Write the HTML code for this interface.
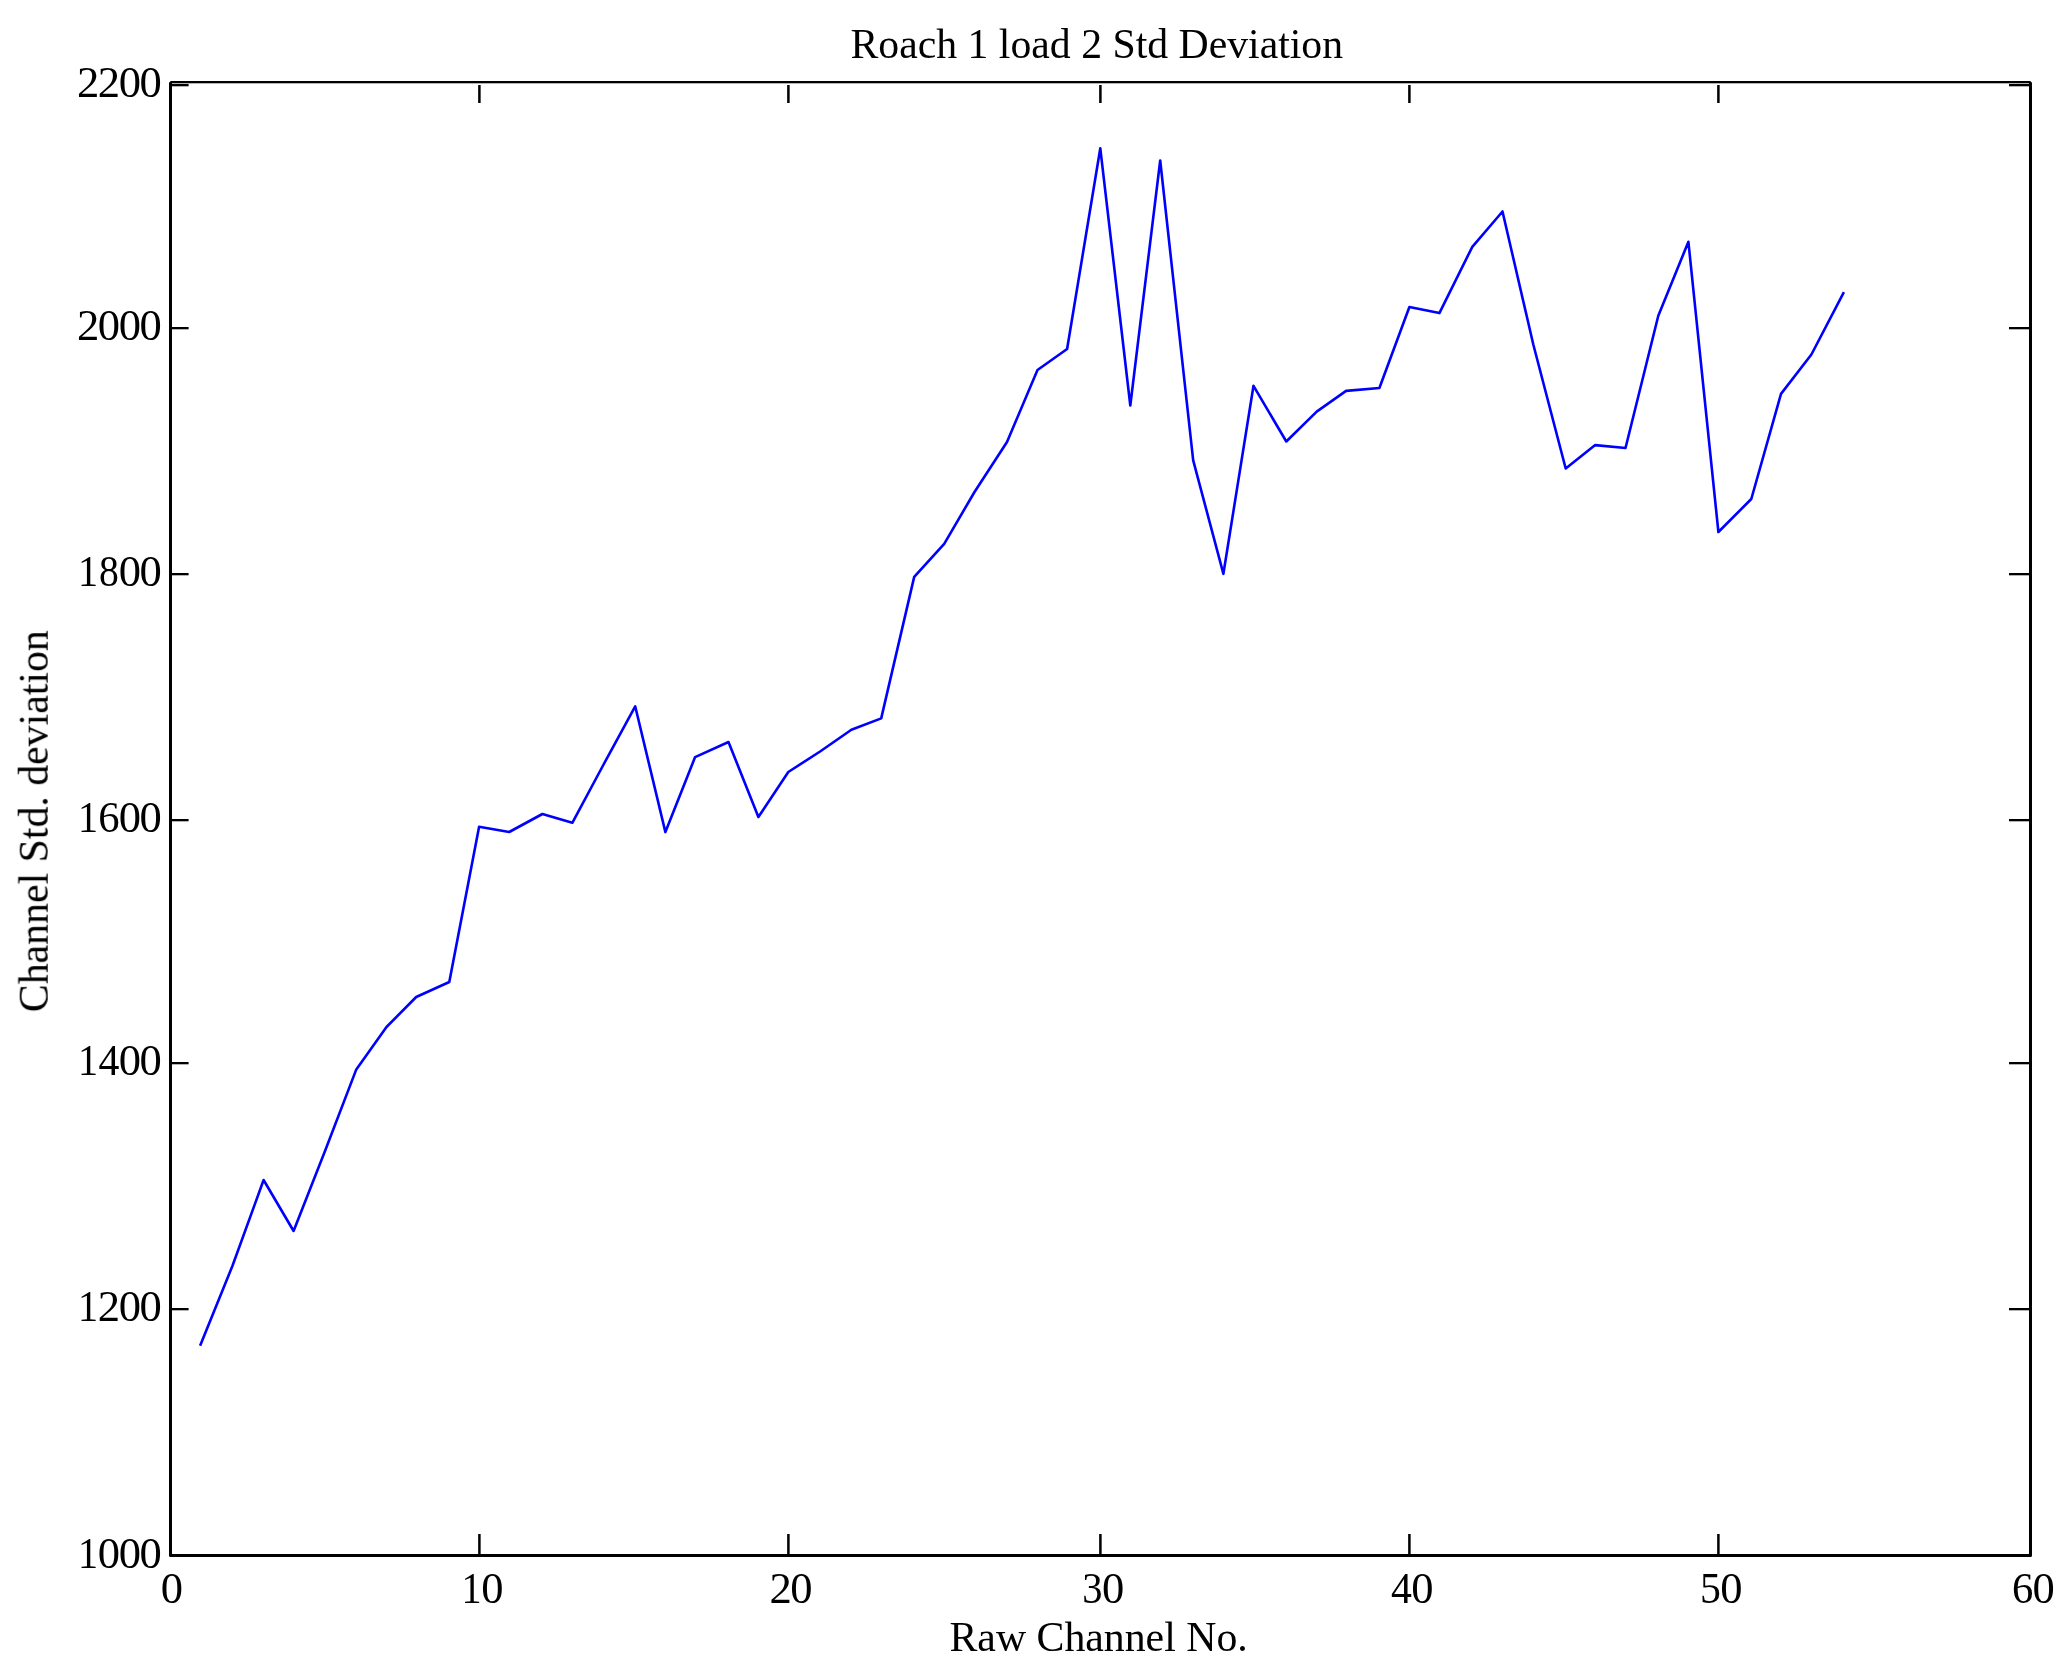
<!DOCTYPE html>
<html lang="en">
<head>
<meta charset="utf-8">
<title>Roach 1 load 2 Std Deviation</title>
<style>
html,body{margin:0;padding:0;background:#fff;overflow:hidden}
svg{display:block}
text{font-family:"Liberation Serif",serif;font-size:41.8px;fill:#000}
</style>
</head>
<body>
<svg width="2067" height="1671" viewBox="0 0 2067 1671">
<rect x="0" y="0" width="2067" height="1671" fill="#fff"/>
<path d="M200.6,1344.5 L232.4,1266.0 L263.6,1180.0 L293.6,1231.0 L325.4,1150.0 L356.3,1069.4 L386.5,1027.0 L416.2,997.0 L449.3,982.0 L479.1,826.8 L509.2,832.0 L542.4,814.0 L572.3,822.8 L603.3,765.0 L635.2,706.3 L665.4,832.1 L695.1,757.1 L728.5,742.0 L758.4,817.0 L788.3,772.0 L820.1,751.5 L851.4,729.8 L881.2,718.4 L914.2,576.9 L944.2,543.9 L974.5,492.0 L1007.0,442.0 L1037.5,370.0 L1067.1,349.0 L1100.3,148.3 L1130.3,405.5 L1160.2,160.5 L1193.2,460.4 L1223.4,573.8 L1253.5,385.8 L1286.3,441.5 L1316.7,411.6 L1346.1,390.9 L1379.4,388.0 L1409.4,307.0 L1439.4,313.1 L1472.3,246.8 L1502.5,211.5 L1533.3,344.5 L1565.7,468.5 L1595.2,445.1 L1625.5,448.0 L1658.3,315.8 L1688.4,241.8 L1718.4,532.0 L1751.3,499.0 L1781.0,393.9 L1811.4,354.5 L1843.3,293.2" fill="none" stroke="#0000ff" stroke-width="2.6" stroke-linejoin="round" stroke-linecap="square"/>
<g fill="#000" shape-rendering="geometricPrecision">
<rect x="171" y="84" width="17.6" height="2.3"/><rect x="2009" y="84" width="21" height="2.3"/>
<rect x="171" y="327" width="17.6" height="2.3"/><rect x="2009" y="327" width="21" height="2.3"/>
<rect x="171" y="573" width="17.6" height="2.3"/><rect x="2009" y="573" width="21" height="2.3"/>
<rect x="171" y="819" width="17.6" height="2.3"/><rect x="2009" y="819" width="21" height="2.3"/>
<rect x="171" y="1062" width="17.6" height="2.3"/><rect x="2009" y="1062" width="21" height="2.3"/>
<rect x="171" y="1308" width="17.6" height="2.3"/><rect x="2009" y="1308" width="21" height="2.3"/>
<rect x="478.15" y="1534" width="2.5" height="21"/><rect x="478.15" y="85" width="2.5" height="18"/>
<rect x="787.15" y="1534" width="2.5" height="21"/><rect x="787.15" y="85" width="2.5" height="18"/>
<rect x="1099.15" y="1534" width="2.5" height="21"/><rect x="1099.15" y="85" width="2.5" height="18"/>
<rect x="1408.15" y="1534" width="2.5" height="21"/><rect x="1408.15" y="85" width="2.5" height="18"/>
<rect x="1717.15" y="1534" width="2.5" height="21"/><rect x="1717.15" y="85" width="2.5" height="18"/>
<rect x="169" y="81" width="3" height="1476"/>
<rect x="2029" y="81" width="3" height="1476"/>
<rect x="169" y="81" width="1863" height="2.3"/>
<rect x="169" y="1554" width="1863" height="3"/>
<path d="M169,81h1.8l-1.8,1.8z M2032,81h-1.8l1.8,1.8z M169,1557h1.5q-1.5,0 -1.5,-1.5z M2032,1557h-1.5q1.5,0 1.5,-1.5z" fill="#fff"/>
</g>
<g style="filter:grayscale(1)">
<text transform="translate(88.05,97) scale(1.07,1.055)" text-anchor="middle">2</text>
<text transform="translate(108.95,97) scale(1.07,1.055)" text-anchor="middle">2</text>
<text transform="translate(129.85,97.35) scale(1.066,1.0761)" text-anchor="middle">0</text>
<text transform="translate(150.75,97.35) scale(1.066,1.0761)" text-anchor="middle">0</text>
<text transform="translate(88.05,340) scale(1.07,1.055)" text-anchor="middle">2</text>
<text transform="translate(108.95,340.35) scale(1.066,1.0761)" text-anchor="middle">0</text>
<text transform="translate(129.85,340.35) scale(1.066,1.0761)" text-anchor="middle">0</text>
<text transform="translate(150.75,340.35) scale(1.066,1.0761)" text-anchor="middle">0</text>
<text transform="translate(88.05,586) scale(0.96,1.055)" text-anchor="middle">1</text>
<text transform="translate(108.95,586.35) scale(0.95,1.0761)" text-anchor="middle">8</text>
<text transform="translate(129.85,586.35) scale(1.066,1.0761)" text-anchor="middle">0</text>
<text transform="translate(150.75,586.35) scale(1.066,1.0761)" text-anchor="middle">0</text>
<text transform="translate(88.05,832) scale(0.96,1.055)" text-anchor="middle">1</text>
<text transform="translate(108.95,832.35) scale(1.02,1.0761)" text-anchor="middle">6</text>
<text transform="translate(129.85,832.35) scale(1.066,1.0761)" text-anchor="middle">0</text>
<text transform="translate(150.75,832.35) scale(1.066,1.0761)" text-anchor="middle">0</text>
<text transform="translate(88.05,1075) scale(0.96,1.055)" text-anchor="middle">1</text>
<text transform="translate(108.95,1075) scale(1.0,1.055)" text-anchor="middle">4</text>
<text transform="translate(129.85,1075.35) scale(1.066,1.0761)" text-anchor="middle">0</text>
<text transform="translate(150.75,1075.35) scale(1.066,1.0761)" text-anchor="middle">0</text>
<text transform="translate(88.05,1321) scale(0.96,1.055)" text-anchor="middle">1</text>
<text transform="translate(108.95,1321) scale(1.07,1.055)" text-anchor="middle">2</text>
<text transform="translate(129.85,1321.35) scale(1.066,1.0761)" text-anchor="middle">0</text>
<text transform="translate(150.75,1321.35) scale(1.066,1.0761)" text-anchor="middle">0</text>
<text transform="translate(88.05,1567.5) scale(0.96,1.055)" text-anchor="middle">1</text>
<text transform="translate(108.95,1567.85) scale(1.066,1.0761)" text-anchor="middle">0</text>
<text transform="translate(129.85,1567.85) scale(1.066,1.0761)" text-anchor="middle">0</text>
<text transform="translate(150.75,1567.85) scale(1.066,1.0761)" text-anchor="middle">0</text>
<text transform="translate(171.8,1603.25) scale(1.066,1.0761)" text-anchor="middle">0</text>
<text transform="translate(471.55,1602.9) scale(0.96,1.055)" text-anchor="middle">1</text>
<text transform="translate(492.45,1603.25) scale(1.066,1.0761)" text-anchor="middle">0</text>
<text transform="translate(780.55,1602.9) scale(1.07,1.055)" text-anchor="middle">2</text>
<text transform="translate(801.45,1603.25) scale(1.066,1.0761)" text-anchor="middle">0</text>
<text transform="translate(1092.35,1603.25) scale(0.97,1.0761)" text-anchor="middle">3</text>
<text transform="translate(1113.25,1603.25) scale(1.066,1.0761)" text-anchor="middle">0</text>
<text transform="translate(1401.55,1602.9) scale(1.0,1.055)" text-anchor="middle">4</text>
<text transform="translate(1422.45,1603.25) scale(1.066,1.0761)" text-anchor="middle">0</text>
<text transform="translate(1710.55,1602.9) scale(1.0,1.055)" text-anchor="middle">5</text>
<text transform="translate(1731.45,1603.25) scale(1.066,1.0761)" text-anchor="middle">0</text>
<text transform="translate(2022.75,1603.25) scale(1.02,1.0761)" text-anchor="middle">6</text>
<text transform="translate(2043.65,1603.25) scale(1.066,1.0761)" text-anchor="middle">0</text>
<text transform="translate(1096.8,58) scale(0.9985,1.03)" text-anchor="middle">Roach 1 load 2 Std Deviation</text>
<text transform="translate(1098.6,1650.7) scale(1,1.03)" text-anchor="middle">Raw Channel No.</text>
<text transform="translate(47.7,821.2) rotate(-90) scale(1.0,1.0)" text-anchor="middle">Channel Std. deviation</text>
</g>
</svg>
</body>
</html>
